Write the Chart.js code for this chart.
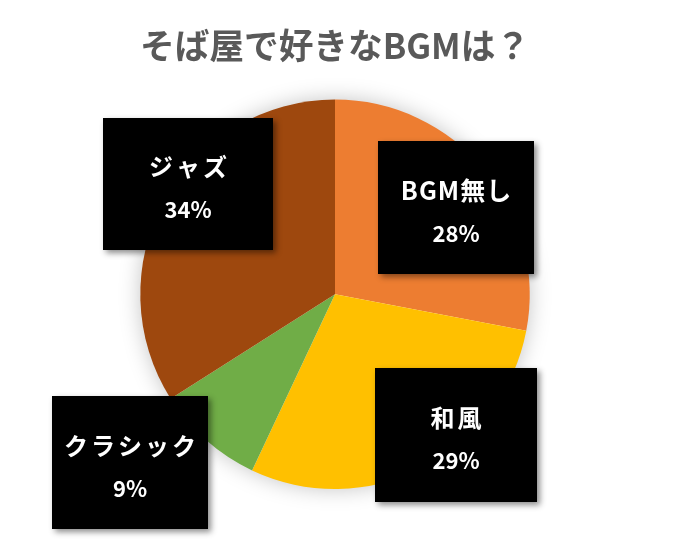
<!DOCTYPE html>
<html>
<head>
<meta charset="utf-8">
<script src="https://cdn.jsdelivr.net/npm/chart.js@4"></script>
<style>
html,body{margin:0;padding:0;background:#fff;}
#wrap{width:682px;height:541px;}
</style>
</head>
<body>
<div id="wrap"><canvas id="c" width="682" height="541"></canvas></div>
<script>
const titleText = 'そば屋で好きなBGMは？';
const categories = ['BGM無し', '和風', 'クラシック', 'ジャズ'];
const values = [28, 29, 9, 34];
const sliceColors = ['#ED7D31', '#FFC000', '#70AD47', '#9E480E'];

// label box placement (centre x, centre y, width, height) in px
const labelBoxes = [
  [456, 207.5, 156, 133],
  [456, 435, 162, 134],
  [130, 462.5, 156, 133],
  [188, 184, 170, 132]
];

const FONT = '"Noto Sans CJK JP", "Noto Sans", sans-serif';

const pieShadow = {
  id: 'pieShadow',
  beforeDatasetsDraw(chart) {
    const arc = chart.getDatasetMeta(0).data[0];
    if (!arc) return;
    const ctx = chart.ctx;
    ctx.save();
    ctx.shadowColor = 'rgba(0,0,0,0.25)';
    ctx.shadowBlur = 22;
    ctx.shadowOffsetX = 0;
    ctx.shadowOffsetY = 0;
    ctx.beginPath();
    ctx.arc(arc.x, arc.y, arc.outerRadius - 1, 0, Math.PI * 2);
    ctx.fillStyle = '#ffffff';
    ctx.fill();
    ctx.restore();
  }
};

const boxLabels = {
  id: 'boxLabels',
  afterDatasetsDraw(chart) {
    const ctx = chart.ctx;
    const sum = values.reduce((a, b) => a + b, 0);
    categories.forEach((cat, i) => {
      const [cx, cy, w, h] = labelBoxes[i];
      ctx.save();
      ctx.shadowColor = 'rgba(0,0,0,0.45)';
      ctx.shadowBlur = 6;
      ctx.shadowOffsetX = 3;
      ctx.shadowOffsetY = 3;
      ctx.fillStyle = '#000000';
      ctx.fillRect(cx - w / 2, cy - h / 2, w, h);
      ctx.restore();
      ctx.save();
      ctx.fillStyle = '#ffffff';
      ctx.textAlign = 'center';
      ctx.textBaseline = 'middle';
      const hasLatin = /[A-Za-z]/.test(cat);
      const sp = hasLatin ? 1 : 3;
      ctx.font = 'bold ' + (hasLatin ? 25 : 24) + 'px ' + FONT;
      ctx.letterSpacing = sp + 'px';
      ctx.fillText(cat, cx + sp / 2, cy - 17);
      ctx.letterSpacing = '0px';
      ctx.font = 'bold 22px ' + FONT;
      ctx.fillText(Math.round(values[i] / sum * 100) + '%', cx, cy + 26);
      ctx.restore();
    });
  }
};

new Chart(document.getElementById('c'), {
  type: 'pie',
  data: {
    labels: categories,
    datasets: [{
      data: values,
      backgroundColor: sliceColors,
      borderWidth: 0
    }]
  },
  options: {
    responsive: false,
    animation: false,
    layout: { padding: { top: 0, bottom: 52, left: 140, right: 152 } },
    plugins: {
      legend: { display: false },
      tooltip: { enabled: false },
      title: {
        display: true,
        text: titleText,
        color: '#595959',
        font: { family: FONT, size: 35.5, weight: 'bold', lineHeight: 1.2 },
        padding: { top: 24, bottom: 33 }
      }
    }
  },
  plugins: [pieShadow, boxLabels]
});
</script>
</body>
</html>
